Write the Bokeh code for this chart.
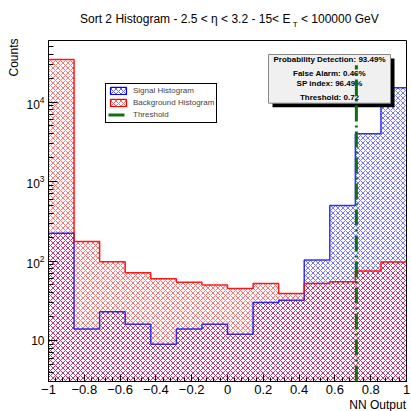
import numpy as np
from bokeh.plotting import figure
from bokeh.models import (Label, BoxAnnotation, Legend, LegendItem, Range1d,
                          FixedTicker)
from bokeh.core.properties import value
from bokeh.embed import file_html
from bokeh.resources import INLINE

# ---------------- data ----------------
n_bins = 14
x_min, x_max = -1.0, 1.0
y_min, y_max = 3.05, 59400
signal_counts = [224, 14, 23, 16, 9, 14, 16, 12, 30, 32, 103, 500, 3980, 15100]
background_counts = [34300, 176, 98, 71, 60, 54, 50, 45, 52, 39, 52, 55, 75, 97]
threshold = 0.72
threshold_top = 29000
x_ticks = [-1.0, -0.8, -0.6, -0.4, -0.2, 0.0, 0.2, 0.4, 0.6, 0.8, 1.0]
x_tick_labels = ["\u22121", "\u22120.8", "\u22120.6", "\u22120.4", "\u22120.2",
                 "0", "0.2", "0.4", "0.6", "0.8", "1"]
y_ticks = [10, 100, 1000, 10000]
box_lines = ["Probability Detection: 93.49%", "False Alarm: 0.46%",
             "SP index: 96.49%", "Threshold: 0.72"]
legend_labels = ["Signal Histogram", "Background Histogram", "Threshold"]
title_main = "Sort 2 Histogram - 2.5 < \u03b7 < 3.2 -  15< E"
title_sub = "T"
title_tail = "< 100000 GeV"
x_title = "NN Output"
y_title = "Counts"

edges = np.linspace(x_min, x_max, n_bins + 1)
FONT = "Liberation Sans"

p = figure(width=410, height=411, x_range=Range1d(x_min, x_max),
           y_range=Range1d(y_min, y_max), y_axis_type="log",
           output_backend="svg", toolbar_location=None,
           min_border_left=48, min_border_right=4, min_border_top=40,
           min_border_bottom=30)
p.xgrid.visible = False
p.ygrid.visible = False
p.outline_line_color = "black"
p.outline_line_width = 1
p.outline_line_alpha = 1
p.background_fill_color = "white"
p.border_fill_color = "white"

hist_floor = y_min
sig_color = "#0000ff"
bkg_color = "#ff0000"

# hatched areas
p.quad(left=edges[:-1], right=edges[1:], bottom=hist_floor, top=signal_counts,
       fill_alpha=0, line_color=None, hatch_pattern="x", hatch_color=sig_color,
       hatch_alpha=0.55, hatch_scale=5, hatch_weight=1)
p.quad(left=edges[:-1], right=edges[1:], bottom=hist_floor, top=background_counts,
       fill_alpha=0, line_color=None, hatch_pattern="x", hatch_color=bkg_color,
       hatch_alpha=0.55, hatch_scale=5, hatch_weight=1)

# outlines
p.step(x=edges, y=list(signal_counts) + [signal_counts[-1]], mode="after",
       line_color=sig_color, line_width=1.5, line_alpha=0.8)
p.step(x=edges, y=list(background_counts) + [background_counts[-1]], mode="after",
       line_color=bkg_color, line_width=1.5, line_alpha=0.9)

# legend-only renderers (hidden, same data)
sig_leg = p.quad(left=edges[:-1], right=edges[1:], bottom=hist_floor, top=signal_counts,
                 fill_alpha=0, line_color=sig_color, line_width=1.2,
                 hatch_pattern="x", hatch_color=sig_color, hatch_alpha=0.6,
                 hatch_scale=5, hatch_weight=1, visible=False)
bkg_leg = p.quad(left=edges[:-1], right=edges[1:], bottom=hist_floor, top=background_counts,
                 fill_alpha=0, line_color=bkg_color, line_width=1.2,
                 hatch_pattern="x", hatch_color=bkg_color, hatch_alpha=0.6,
                 hatch_scale=5, hatch_weight=1, visible=False)

# info box with shadow
p.add_layout(BoxAnnotation(left=224, right=346, bottom=274.3, top=323,
                           left_units="screen", right_units="screen",
                           bottom_units="screen", top_units="screen",
                           fill_color="black", fill_alpha=1, line_color=None))
p.add_layout(BoxAnnotation(left=220, right=342, bottom=278.3, top=327,
                           left_units="screen", right_units="screen",
                           bottom_units="screen", top_units="screen",
                           fill_color="#f0f0f0", fill_alpha=1,
                           line_color="#888888", line_width=1, line_alpha=1))
for txt, fy in zip(box_lines, [321.7, 307.7, 297.7, 283.7]):
    p.add_layout(Label(x=281, y=fy, x_units="screen", y_units="screen",
                       text=txt, text_font=FONT, text_font_size="8px",
                       text_font_style="bold", text_align="center",
                       text_baseline="middle", text_color="black"))

# threshold line
thr = p.segment(x0=[threshold], y0=[y_min], x1=[threshold], y1=[threshold_top],
                line_color="#0f700f", line_width=3, line_dash="16 4 2 4",
                level="overlay")

legend = Legend(items=[LegendItem(label=legend_labels[0], renderers=[sig_leg]),
                       LegendItem(label=legend_labels[1], renderers=[bkg_leg]),
                       LegendItem(label=legend_labels[2], renderers=[thr])],
                location=(57, 258.5), border_line_color="black",
                border_line_width=1, border_line_alpha=1,
                background_fill_color="white", background_fill_alpha=1,
                inactive_fill_alpha=0,
                label_text_font=FONT, label_text_font_size="8px",
                glyph_width=20, glyph_height=9, label_height=10, spacing=2,
                padding=2, margin=0, label_standoff=5)
p.add_layout(legend)


# ---- texts outside the frame: anchored at the frame's bottom-left corner ----
def outer_text(txt, dx, dy, size, align, baseline, angle=0.0):
    p.text(x=[x_min], y=[y_min], text=[txt], x_offset=dx, y_offset=-dy,
           angle=angle, text_font=value(FONT), text_font_size=value(size),
           text_align=align, text_baseline=baseline, text_color="black",
           level="overlay")


outer_text(title_main, 245.3, 363, "12px", "right", "alphabetic")
outer_text(title_sub, 244.3, 357, "8px", "left", "alphabetic")
outer_text(title_tail, 252.5, 363, "12px", "left", "alphabetic")
outer_text(x_title, 357.5, -23, "12px", "right", "middle")
outer_text(y_title, -35, 343, "12px", "right", "middle", angle=np.pi / 2)

# axes
xa = p.xaxis[0]
xa.ticker = FixedTicker(ticks=x_ticks,
                        minor_ticks=list(np.round(np.arange(-1.0, 1.0001, 0.04), 2)))
xa.major_label_overrides = {t: l for t, l in zip(x_ticks, x_tick_labels)}
xa.major_tick_in = 7
xa.major_tick_out = 0
xa.minor_tick_in = 4
xa.minor_tick_out = 0
xa.major_label_standoff = 3
xa.major_label_text_font = FONT
xa.major_label_text_font_size = "13px"
xa.major_label_text_color = "black"
xa.axis_line_color = "black"
xa.major_tick_line_color = "black"
xa.minor_tick_line_color = "black"

ya = p.yaxis[0]
ya.ticker = FixedTicker(ticks=y_ticks, minor_ticks=[
    m * 10 ** e for e in range(0, 5) for m in range(2, 10)])
ya.major_label_overrides = {10: "10"}
ya.major_tick_in = 9
ya.major_tick_out = 0
ya.minor_tick_in = 5
ya.minor_tick_out = 0
ya.major_label_standoff = 4
ya.major_label_text_font = FONT
ya.major_label_text_font_size = "12px"
ya.major_label_text_color = "black"
ya.axis_line_color = "black"
ya.major_tick_line_color = "black"
ya.minor_tick_line_color = "black"

open("out.html", "w").write(file_html(p, INLINE))
